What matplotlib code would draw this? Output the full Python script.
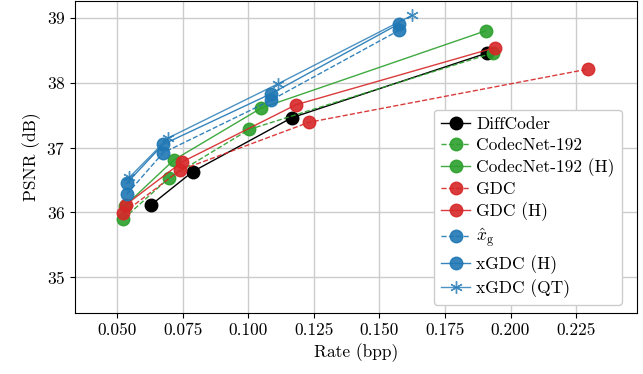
import numpy as np
import matplotlib
matplotlib.use("Agg")
import matplotlib.pyplot as plt

plt.rcParams['font.family'] = 'serif'
plt.rcParams['font.serif'] = ['cmr10']
plt.rcParams['mathtext.fontset'] = 'cm'
plt.rcParams['axes.formatter.use_mathtext'] = True
plt.rcParams['font.size'] = 12.5

# rate (bpp) / PSNR (dB) per method
diff_x = [0.0628, 0.0789, 0.1166, 0.1912]
diff_y = [36.11, 36.63, 37.46, 38.46]

cn_x = [0.0524, 0.0698, 0.1004, 0.1933]
cn_y = [35.90, 36.53, 37.28, 38.46]

cnh_x = [0.0530, 0.0717, 0.1050, 0.1905]
cnh_y = [36.10, 36.81, 37.61, 38.80]

gdc_x = [0.0524, 0.0740, 0.1232, 0.2295]
gdc_y = [35.99, 36.65, 37.39, 38.21]

gdch_x = [0.0534, 0.0749, 0.1182, 0.1940]
gdch_y = [36.12, 36.78, 37.66, 38.54]

xg_x = [0.0537, 0.0676, 0.1087, 0.1576]
xg_y = [36.28, 36.92, 37.73, 38.81]

xgh_x = [0.0537, 0.0676, 0.1087, 0.1576]
xgh_y = [36.45, 37.05, 37.83, 38.91]

xqt_x = [0.0547, 0.0696, 0.1112, 0.1625]
xqt_y = [36.54, 37.15, 37.98, 39.04]

black = 'black'
green = '#2ca02c'
red = '#d62728'
blue = '#1f77b4'

fig = plt.figure(figsize=(6.43, 3.74), dpi=100)
ax = fig.add_axes([75/643, 61/374, 562/643, 312/374])

ms = 9
lw = 1.0
ax.plot(diff_x, diff_y, '-o', color=black, ms=ms, lw=lw, label='DiffCoder', zorder=3)
ax.plot(cn_x, cn_y, '--o', color=green, ms=ms, lw=lw, alpha=0.9, label='CodecNet-192', zorder=3)
ax.plot(cnh_x, cnh_y, '-o', color=green, ms=ms, lw=lw, alpha=0.9, label='CodecNet-192 (H)', zorder=3)
ax.plot(gdc_x, gdc_y, '--o', color=red, ms=ms, lw=lw, alpha=0.9, label='GDC', zorder=3)
ax.plot(gdch_x, gdch_y, '-o', color=red, ms=ms, lw=lw, alpha=0.9, label='GDC (H)', zorder=3)
ax.plot(xg_x, xg_y, '--o', color=blue, ms=ms, lw=lw, alpha=0.9, label=r'$\hat{x}_{\mathrm{g}}$', zorder=3)
ax.plot(xgh_x, xgh_y, '-o', color=blue, ms=ms, lw=lw, alpha=0.9, label='xGDC (H)', zorder=3)
ax.plot(xqt_x, xqt_y, '-', marker=(6, 2, 0), color=blue, ms=ms, lw=lw, alpha=0.8, label='xGDC (QT)', zorder=3)

ax.set_xlim(0.034, 0.2482)
ax.set_ylim(34.45, 39.26)
ax.set_xticks([0.050, 0.075, 0.100, 0.125, 0.150, 0.175, 0.200, 0.225])
ax.set_xticklabels(['0.050', '0.075', '0.100', '0.125', '0.150', '0.175', '0.200', '0.225'])
ax.set_yticks([35, 36, 37, 38, 39])
ax.grid(True, color='#cccccc', lw=1.0)
ax.set_axisbelow(True)
ax.set_xlabel('Rate (bpp)')
ax.set_ylabel('PSNR (dB)')
ax.legend(loc='lower right', bbox_to_anchor=(0.973, 0.026), borderaxespad=0,
          edgecolor='#cccccc', framealpha=1.0,
          labelspacing=0.3, handlelength=1.7, handletextpad=0.35,
          borderpad=0.4)

fig.savefig('out.png', dpi=100)
